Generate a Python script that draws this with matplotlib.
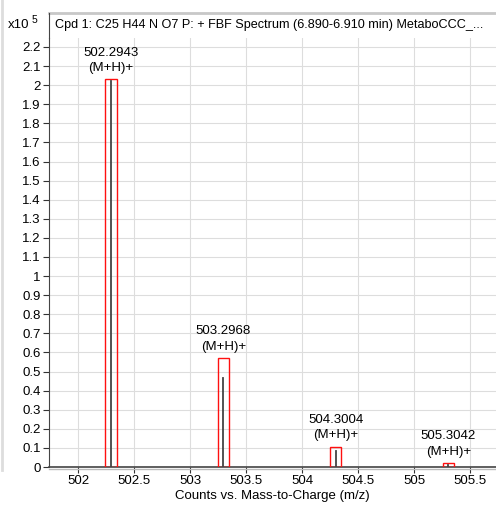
import matplotlib
matplotlib.use("Agg")
import matplotlib.pyplot as plt
from matplotlib.patches import Rectangle
from matplotlib.lines import Line2D

# peak data (counts x10^5)
masses = [502.2943, 503.2968, 504.3004, 505.3042]
box_heights = [2.03, 0.57, 0.105, 0.02]
line_heights = [2.02, 0.465, 0.085, 0.008]
peak_labels = ["502.2943\n(M+H)+", "503.2968\n(M+H)+", "504.3004\n(M+H)+", "505.3042\n(M+H)+"]
title = "Cpd 1: C25 H44 N O7 P: + FBF Spectrum (6.890-6.910 min) MetaboCCC_..."
yticks = [i / 10 for i in range(23)]
xticks = [502, 502.5, 503, 503.5, 504, 504.5, 505, 505.5]

plt.rcParams['font.family'] = ['Liberation Sans', 'DejaVu Sans']
fs = 9.5

fig = plt.figure(figsize=(4.96, 5.07), dpi=100)
W, H = 496, 507
ax = fig.add_axes([49 / W, (H - 467) / H, (W - 49) / W, (467 - 38) / H])

ax.set_xlim(501.74, 505.73)
ax.set_ylim(0, 2.247)

for m, bh, lh in zip(masses, box_heights, line_heights):
    ax.add_patch(Rectangle((m - 0.05, 0), 0.1, bh, fill=False, edgecolor='#ff1010', lw=1.0, zorder=3))
    ax.plot([m, m], [0, lh], color='#444444', lw=1.3, zorder=4)

for m, bh, lab in zip(masses, box_heights, peak_labels):
    ax.annotate(lab, (m, bh), xytext=(0, 4), textcoords='offset points',
                ha='center', va='bottom', fontsize=fs, linespacing=1.35)

ax.set_yticks(yticks)
ax.set_yticklabels([f"{v:g}" for v in yticks], fontsize=fs)
ax.set_xticks(xticks)
ax.set_xticklabels([f"{v:g}" for v in xticks], fontsize=fs)
ax.grid(True, color='#dddddd', lw=0.8)
ax.set_axisbelow(True)
ax.tick_params(axis='both', length=4, width=0.8, color='#333333', pad=2)
ax.spines['top'].set_visible(False)
ax.spines['right'].set_visible(False)
ax.spines['left'].set_color('#444444')
ax.spines['bottom'].set_color('#444444')
ax.spines['bottom'].set_linewidth(1.2)
ax.set_xlabel("Counts vs. Mass-to-Charge (m/z)", fontsize=fs, labelpad=2)

# title header area
fig.add_artist(Line2D([49 / W, 1], [(H - 13) / H] * 2, color='#c8c8c8', lw=2))
fig.add_artist(Line2D([49 / W] * 2, [(H - 13) / H, (H - 38) / H], color='#444444', lw=0.8))
fig.text(55 / W, (H - 25) / H, title, fontsize=9.1, va='center', ha='left')
fig.text(8 / W, (H - 25) / H, "x10", fontsize=fs, va='center', ha='left')
fig.text(32 / W, (H - 20) / H, "5", fontsize=7.5, va='center', ha='left')
# left separator and bottom shadow
fig.add_artist(Line2D([1.5 / W] * 2, [1, (H - 470) / H], color='#dddddd', lw=2))
fig.add_artist(Line2D([49 / W, 1], [(H - 469) / H] * 2, color='#bbbbbb', lw=1))

fig.savefig("out.png", dpi=100)
